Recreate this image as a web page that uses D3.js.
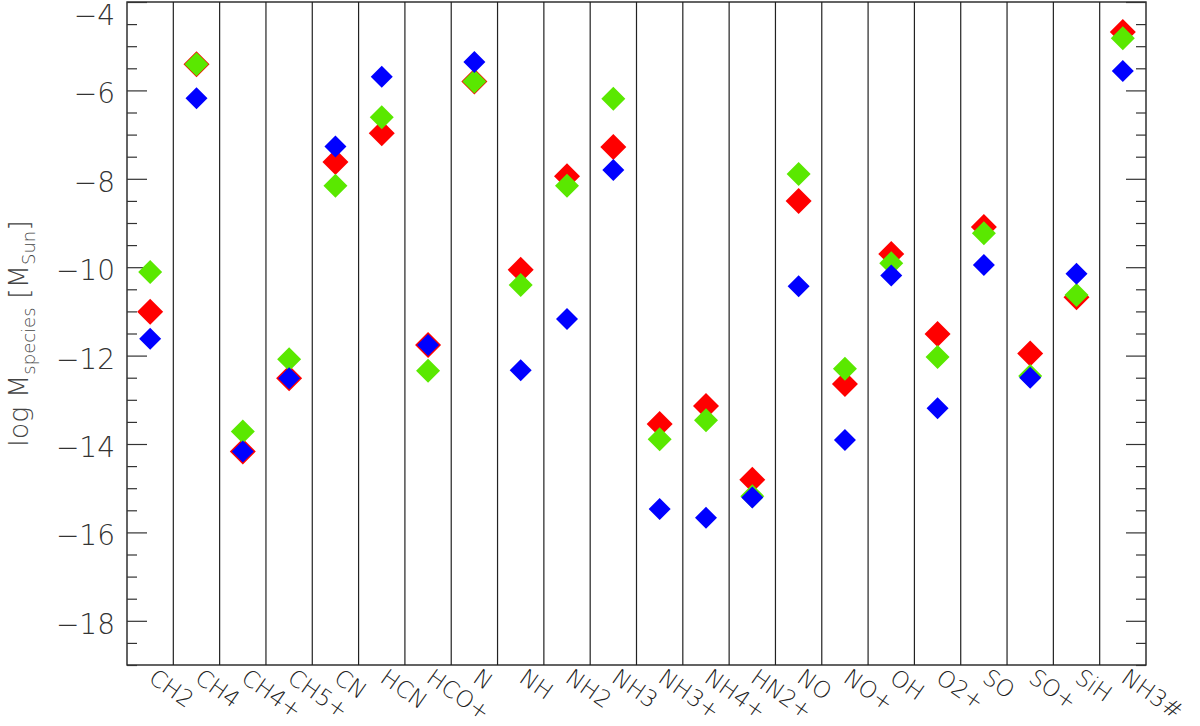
<!DOCTYPE html>
<html><head><meta charset="utf-8">
<script src="https://cdn.jsdelivr.net/npm/d3@7"></script>
<style>body{margin:0;background:#fff}</style>
</head><body>
<svg id="c" width="1200" height="726"></svg>
<script>
const categories = ["CH2","CH4","CH4+","CH5+","CN","HCN","HCO+","N","NH","NH2","NH3","NH3+","NH4+","HN2+","NO","NO+","OH","O2+","SO","SO+","SiH","NH3#"];
const redValues   = [-11.01,-5.41,-14.17,-12.51,-7.62,-6.97,-11.76,-5.80,-10.06,-7.94,-7.28,-13.55,-13.14,-14.81,-8.50,-12.64,-9.70,-11.51,-9.09,-11.95,-10.68,-4.68];
const greenValues = [-10.11,-5.41,-13.72,-12.08,-8.16,-6.61,-12.34,-5.80,-10.40,-8.16,-6.19,-13.89,-13.46,-15.18,-7.89,-12.30,-9.91,-12.03,-9.23,-12.46,-10.63,-4.82];
const blueValues  = [-11.62,-6.18,-14.17,-12.51,-7.27,-5.69,-11.76,-5.36,-12.33,-11.17,-7.80,-15.47,-15.67,-15.21,-10.43,-13.91,-10.19,-13.19,-9.95,-12.50,-10.15,-5.56];
const yTickValues = [-18,-16,-14,-12,-10,-8,-6,-4];

const svg = d3.select("#c");
const L = 127, R = 1146, T = 2, B = 665;
const font = "'DejaVu Sans', sans-serif";
const x = d3.scaleBand().domain(categories).range([L, R]);
const y = d3.scaleLinear().domain([-19, -4]).range([B, T]);

// category separators
svg.append("g").selectAll("line").data(categories.slice(1)).join("line")
  .attr("x1", d => x(d)).attr("x2", d => x(d)).attr("y1", T).attr("y2", B)
  .attr("stroke", "#222").attr("stroke-width", 1.2);

// frame
svg.append("rect").attr("x", L).attr("y", T).attr("width", R - L).attr("height", B - T)
  .attr("fill", "none").attr("stroke", "#222").attr("stroke-width", 1.4);

// y ticks, left & right
const minor = d3.range(-19, -3.99, 0.5);
const isMajor = v => Math.abs(v / 2 - Math.round(v / 2)) < 1e-6;
const gl = svg.append("g").attr("transform", `translate(${L},0)`);
gl.call(d3.axisRight(y).tickValues(minor).tickSize(0).tickFormat(""));
gl.select(".domain").remove();
gl.selectAll(".tick line").attr("x2", d => isMajor(d) ? 20 : 10).attr("stroke", "#333").attr("stroke-width", 1.2);
const gr = svg.append("g").attr("transform", `translate(${R},0)`);
gr.call(d3.axisLeft(y).tickValues(minor).tickSize(0).tickFormat(""));
gr.select(".domain").remove();
gr.selectAll(".tick line").attr("x2", d => isMajor(d) ? -20 : -10).attr("stroke", "#333").attr("stroke-width", 1.2);

// y tick labels
svg.append("g").selectAll("text").data(yTickValues).join("text")
  .attr("x", 115).attr("y", d => Math.max(y(d) + 5, 17))
  .attr("text-anchor", "end").attr("dominant-baseline", "middle")
  .attr("font-family", font).attr("font-size", 28).attr("font-weight", 200).attr("fill", "#333")
  .text(d => "\u2212" + Math.abs(d));

// y axis title
const yt = svg.append("text").attr("transform", `translate(28,${(T + B) / 2}) rotate(-90)`)
  .attr("text-anchor", "middle").attr("font-family", font).attr("font-weight", 200).attr("fill", "#444").attr("font-size", 27);
yt.append("tspan").text("log M");
yt.append("tspan").attr("font-size", 18).attr("dy", 7).text("species");
yt.append("tspan").attr("dy", -7).text(" [M");
yt.append("tspan").attr("font-size", 18).attr("dy", 7).text("Sun");
yt.append("tspan").attr("dy", -7).text("]");

// category labels
svg.append("g").selectAll("text").data(categories).join("text")
  .attr("transform", d => `translate(${x(d) + x.bandwidth() / 2 - 3},${681}) rotate(35)`)
  .attr("font-family", font).attr("font-weight", 200).attr("font-size", 23).attr("fill", "#222")
  .text(d => d);

// markers
function diamonds(vals, color, half) {
  svg.append("g").selectAll("path").data(vals).join("path")
    .attr("d", (v, i) => {
      const cx = x(categories[i]) + x.bandwidth() / 2, cy = y(v);
      return `M${cx},${cy - half}L${cx + half},${cy}L${cx},${cy + half}L${cx - half},${cy}Z`;
    })
    .attr("fill", color);
}
diamonds(redValues, "#ff0000", 13);
diamonds(greenValues, "#5ae800", 12);
diamonds(blueValues, "#0000ff", 11);
</script>
</body></html>
